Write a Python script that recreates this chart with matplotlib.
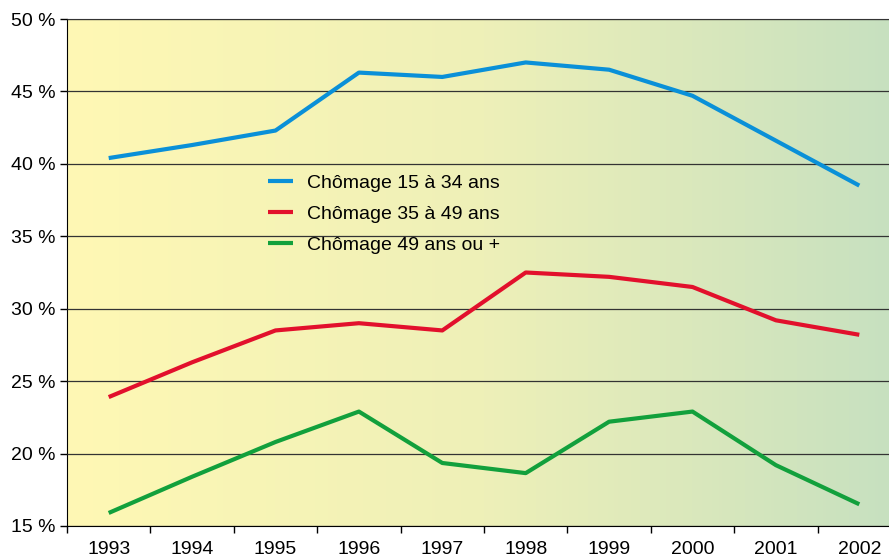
import numpy as np
import matplotlib.pyplot as plt
from matplotlib.colors import LinearSegmentedColormap

plt.rcParams['font.family'] = ['Liberation Sans', 'DejaVu Sans']

# données (taux de chômage en %)
annees = ['1993', '1994', '1995', '1996', '1997', '1998', '1999', '2000', '2001', '2002']
jeunes = [40.4, 41.3, 42.3, 46.3, 46.0, 47.0, 46.5, 44.7, 41.6, 38.5]
moyens = [23.9, 26.3, 28.5, 29.0, 28.5, 32.5, 32.2, 31.5, 29.2, 28.2]
seniors = [15.9, 18.4, 20.8, 22.9, 19.35, 18.65, 22.2, 22.9, 19.2, 16.5]
noms = ['Chômage 15 à 34 ans', 'Chômage 35 à 49 ans', 'Chômage 49 ans ou +']
couleurs = ['#0a90d8', '#e2102c', '#12a03c']

fig = plt.figure(figsize=(8.89, 5.57), dpi=100)
# l'axe dépasse un peu à droite comme sur l'original
ax = fig.add_axes([67/889, 1-526/557, (901-67)/889, (526-19)/557])

x = np.arange(len(annees))
ax.set_xlim(-0.5, len(annees)-0.5)
ax.set_ylim(15, 50)

# fond dégradé jaune -> vert
cmap = LinearSegmentedColormap.from_list('fond', ['#fff8b4', '#eef0b8', '#c6e0c0'])
grad = np.linspace(0, 1, 256).reshape(1, -1)
ax.imshow(grad, cmap=cmap, aspect='auto', extent=[-0.5, len(annees)-0.5, 15, 50], zorder=0)

for serie, nom, c in zip([jeunes, moyens, seniors], noms, couleurs):
    ax.plot(x, serie, color=c, lw=3, label=nom, zorder=3, solid_capstyle='butt')

ax.set_yticks(np.arange(15, 51, 5))
ax.set_yticklabels([f'{v} %' for v in range(15, 51, 5)])
ax.yaxis.grid(True, color='#333333', lw=0.9)
ax.set_axisbelow(False)
for gl in ax.get_ygridlines():
    gl.set_zorder(1)

ax.set_xticks(np.arange(-0.5, len(annees), 1), minor=False)
ax.set_xticklabels([])
ax.set_xticks(x, minor=True)
ax.set_xticklabels(annees, minor=True)
ax.tick_params(axis='x', which='major', direction='out', length=5, width=1)
ax.tick_params(axis='x', which='minor', length=0, labelsize=14, pad=11)
ax.tick_params(axis='y', direction='out', length=5, width=1, labelsize=14, pad=3)

ax.spines['top'].set_color('#222222')
ax.spines['right'].set_visible(False)

ax.legend(loc='upper left', bbox_to_anchor=(0.220, 0.729), frameon=False,
          fontsize=14, handlelength=1.3, handletextpad=0.7, labelspacing=0.7)

fig.savefig('out.png', dpi=100)
